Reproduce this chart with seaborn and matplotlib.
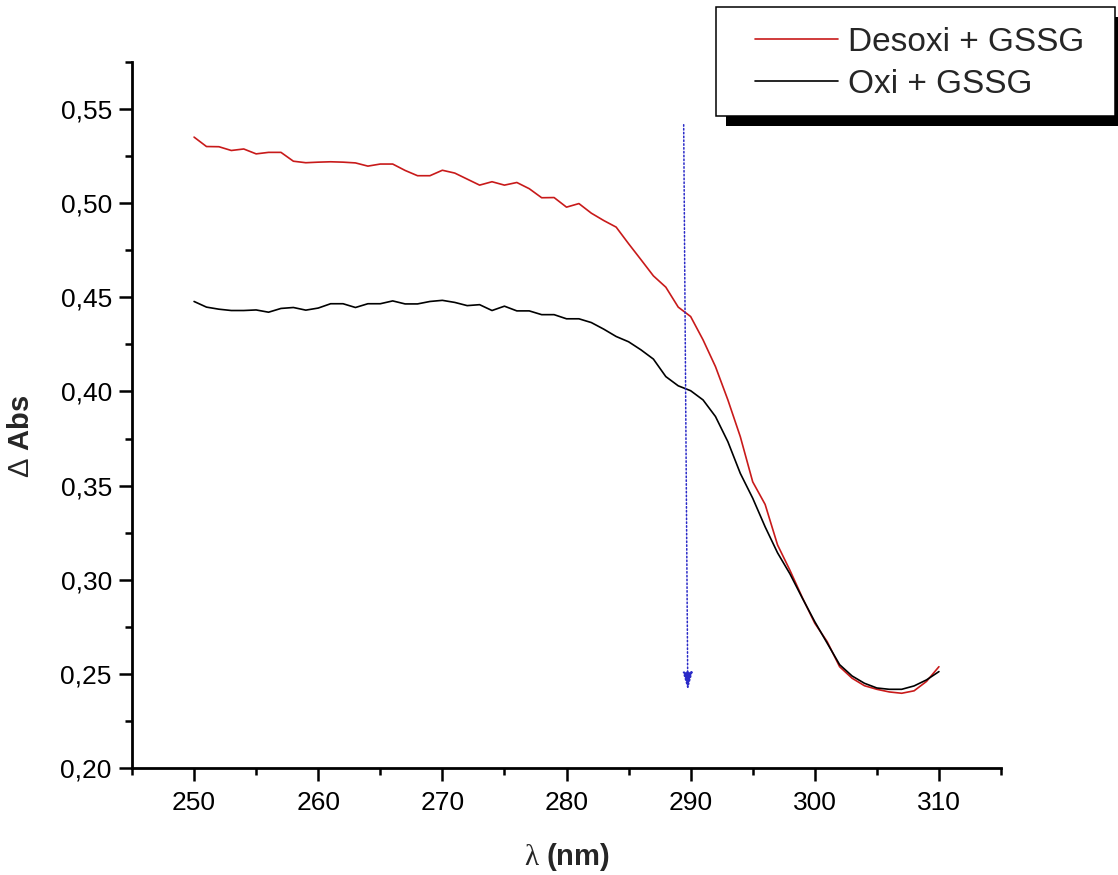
import numpy as np
import pandas as pd
import matplotlib
matplotlib.use("Agg")
import matplotlib.pyplot as plt
from matplotlib.patches import Rectangle
from matplotlib.lines import Line2D
import seaborn as sns

# ---- data ----
wavelength = list(range(250, 311))
desoxi_gssg = [
    0.5351, 0.5301, 0.5300, 0.5280, 0.5288, 0.5262, 0.5270, 0.5270, 0.5223, 0.5215,
    0.5218, 0.5220, 0.5218, 0.5214, 0.5197, 0.5208, 0.5208, 0.5174, 0.5146, 0.5146,
    0.5175, 0.5160, 0.5128, 0.5096, 0.5114, 0.5096, 0.5110, 0.5077, 0.5029, 0.5030,
    0.4979, 0.4998, 0.4947, 0.4908, 0.4873, 0.4785, 0.4700, 0.4614, 0.4554, 0.4448,
    0.4398, 0.4274, 0.4132, 0.3955, 0.3760, 0.3520, 0.3400, 0.3185, 0.3050, 0.2905,
    0.2769, 0.2671, 0.2538, 0.2477, 0.2437, 0.2418, 0.2404, 0.2397, 0.2410, 0.2460,
    0.2538,
]
oxi_gssg = [
    0.4478, 0.4448, 0.4437, 0.4430, 0.4430, 0.4433, 0.4421, 0.4441, 0.4446, 0.4432,
    0.4443, 0.4466, 0.4466, 0.4446, 0.4466, 0.4466, 0.4481, 0.4465, 0.4465, 0.4478,
    0.4484, 0.4473, 0.4456, 0.4461, 0.4430, 0.4453, 0.4428, 0.4428, 0.4408, 0.4408,
    0.4386, 0.4386, 0.4366, 0.4331, 0.4292, 0.4264, 0.4221, 0.4172, 0.4079, 0.4030,
    0.4004, 0.3955, 0.3867, 0.3733, 0.3565, 0.3433, 0.3281, 0.3143, 0.3031, 0.2902,
    0.2777, 0.2663, 0.2549, 0.2489, 0.2450, 0.2425, 0.2418, 0.2418, 0.2436, 0.2468,
    0.2512,
]
series_labels = ["Desoxi + GSSG", "Oxi + GSSG"]
x_ticks = [250, 260, 270, 280, 290, 300, 310]
y_ticks = [0.20, 0.25, 0.30, 0.35, 0.40, 0.45, 0.50, 0.55]
arrow_start = (289.44, 0.5417)
arrow_end = (289.77, 0.2414)

df = pd.DataFrame({
    "wl": wavelength * 2,
    "abs": desoxi_gssg + oxi_gssg,
    "serie": [series_labels[0]] * len(wavelength) + [series_labels[1]] * len(wavelength),
})

sns.set_theme(style="ticks")
plt.rcParams["font.family"] = ["Liberation Sans", "DejaVu Sans"]
plt.rcParams["mathtext.fontset"] = "custom"
plt.rcParams["mathtext.rm"] = "Liberation Sans"
plt.rcParams["mathtext.it"] = "Liberation Serif"
plt.rcParams["mathtext.bf"] = "Liberation Sans:bold"

W, H = 1118, 875
fig = plt.figure(figsize=(W / 100, H / 100), dpi=100)
ax = fig.add_axes([132 / W, 1 - 768 / H, (1001 - 132) / W, (768 - 62) / H])

red = "#c81a1a"
sns.lineplot(data=df, x="wl", y="abs", hue="serie",
             palette={series_labels[0]: red, series_labels[1]: "black"},
             linewidth=1.2, ax=ax, legend=False, estimator=None, sort=False)

ax.annotate("", xy=arrow_end, xytext=arrow_start,
            arrowprops=dict(arrowstyle="-|>,head_length=0.9,head_width=0.25",
                            linestyle=(0, (1, 1.5)), lw=1.1, color="#2a2ac8",
                            shrinkA=0, shrinkB=0))

ax.set_xlim(245, 315)
ax.set_ylim(0.20, 0.575)
ax.set_xticks(x_ticks)
ax.set_yticks(y_ticks)
ax.set_xticks(np.arange(245, 316, 10), minor=True)
ax.set_yticks(np.arange(0.225, 0.576, 0.05), minor=True)
ax.set_xticklabels([str(v) for v in x_ticks])
ax.set_yticklabels([f"{v:.2f}".replace(".", ",") for v in y_ticks])

sns.despine(ax=ax)
for s in ["left", "bottom"]:
    ax.spines[s].set_linewidth(2.0)
    ax.spines[s].set_color("black")
ax.tick_params(which="major", length=9.5, width=1.8, direction="out",
               labelsize=19, colors="black", pad=5)
ax.tick_params(which="minor", length=5, width=1.8, direction="out", colors="black")
ax.tick_params(axis="x", which="major", pad=7)

ax.set_xlabel(r"$\lambda$ (nm)", fontsize=21, fontweight="bold")
ax.set_ylabel(r"$\Delta$ Abs", fontsize=21, fontweight="bold")
ax.xaxis.set_label_coords(0.5, -0.103)
ax.yaxis.set_label_coords(-0.112, 0.47)
ax.grid(False)

# legend box with shadow
bx0, by0, bx1, by1 = 716, 7, 1115, 116
off = 10
fig.patches.append(Rectangle(((bx0 + off) / W, 1 - (by1 + off) / H), (bx1 - bx0) / W, (by1 - by0) / H,
                             transform=fig.transFigure, facecolor="black", edgecolor="none", zorder=5))
fig.patches.append(Rectangle((bx0 / W, 1 - by1 / H), (bx1 - bx0) / W, (by1 - by0) / H,
                             transform=fig.transFigure, facecolor="white", edgecolor="black",
                             linewidth=1.1, zorder=6))
handles = [Line2D([], [], color=red, lw=1.2), Line2D([], [], color="black", lw=1.2)]
leg = fig.legend(handles, series_labels, loc="upper left",
                 bbox_to_anchor=(755 / W, 1 - 27 / H), bbox_transform=fig.transFigure,
                 frameon=False, fontsize=24, borderpad=0, borderaxespad=0,
                 handlelength=2.5, handletextpad=0.3, labelspacing=0.33)
leg.set_zorder(7)

fig.savefig("out.png", dpi=100)
